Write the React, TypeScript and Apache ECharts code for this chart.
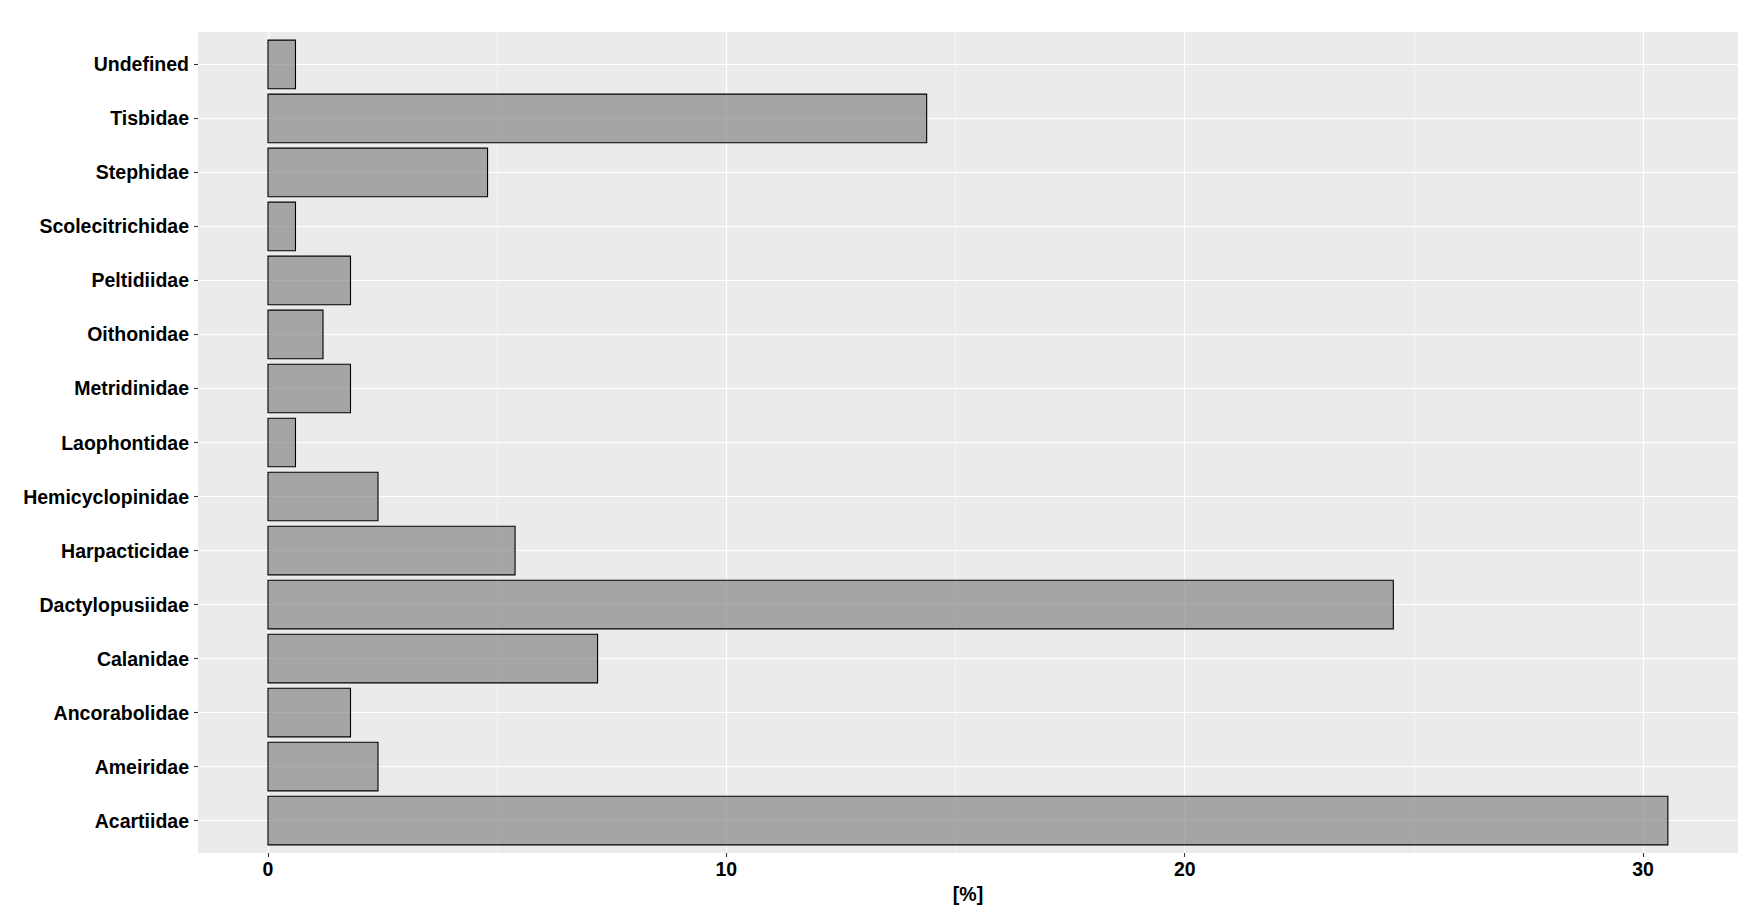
import React, { useEffect, useRef } from "react";
import * as echarts from "echarts";

// Categories, bottom (Acartiidae) to top (Undefined)
const categories = [
  "Acartiidae",
  "Ameiridae",
  "Ancorabolidae",
  "Calanidae",
  "Dactylopusiidae",
  "Harpacticidae",
  "Hemicyclopinidae",
  "Laophontidae",
  "Metridinidae",
  "Oithonidae",
  "Peltidiidae",
  "Scolecitrichidae",
  "Stephidae",
  "Tisbidae",
  "Undefined",
];

// Percent values
const percents = [
  30.54, 2.4, 1.8, 7.19, 24.55, 5.39, 2.4, 0.6, 1.8, 1.2, 1.8, 0.6, 4.79, 14.37, 0.6,
];

const majorTicks = [0, 10, 20, 30];
const minorTicks = [5, 15, 25];
const xMin = -1.527;
const xMax = 32.07;
const catPositions = [1, 2, 3, 4, 5, 6, 7, 8, 9, 10, 11, 12, 13, 14, 15];

const FONT = "'Liberation Sans', Arial, sans-serif";

export default function App() {
  const ref = useRef<HTMLDivElement>(null);

  useEffect(() => {
    if (!ref.current) return;
    const chart = echarts.init(ref.current, undefined, { renderer: "svg" });
    const data = percents.map((v, i) => [v, catPositions[i]]);
    chart.setOption({
      animation: false,
      backgroundColor: "#ffffff",
      grid: {
        left: 198,
        right: 7,
        top: 32,
        bottom: 57,
        show: true,
        backgroundColor: "#EBEBEB",
        borderWidth: 0,
      },
      xAxis: [
        {
          type: "value",
          min: xMin,
          max: xMax,
          position: "bottom",
          name: "[%]",
          nameLocation: "middle",
          nameGap: 30,
          nameTextStyle: {
            fontFamily: FONT,
            fontWeight: "bold",
            fontSize: 19.5,
            color: "#000",
          },
          axisLine: { show: false, onZero: false },
          axisTick: {
            show: true,
            length: 4,
            customValues: majorTicks,
            lineStyle: { color: "#333333", width: 1.1 },
          },
          axisLabel: {
            customValues: majorTicks,
            margin: 6,
            fontFamily: FONT,
            fontWeight: "bold",
            fontSize: 19.5,
            color: "#000",
          },
          splitLine: {
            show: true,
            lineStyle: { color: "#ffffff", width: 1.1 },
          },
        },
        {
          type: "value",
          min: xMin,
          max: xMax,
          position: "top",
          axisLine: { show: false, onZero: false },
          axisTick: { show: false, customValues: minorTicks },
          axisLabel: { show: false, customValues: minorTicks },
          splitLine: {
            show: true,
            lineStyle: { color: "#ffffff", width: 0.55 },
          },
        },
      ],
      yAxis: {
        type: "value",
        min: 0.4,
        max: 15.6,
        position: "left",
        axisLine: { show: false, onZero: false },
        axisTick: {
          show: true,
          length: 4,
          customValues: catPositions,
          lineStyle: { color: "#333333", width: 1.1 },
        },
        axisLabel: {
          customValues: catPositions,
          margin: 9,
          padding: [5, 0, 0, 0],
          fontFamily: FONT,
          fontWeight: "bold",
          fontSize: 19.5,
          color: "#000",
          formatter: (v: number) => categories[Math.round(v) - 1] ?? "",
        },
        splitLine: {
          show: true,
          lineStyle: { color: "#ffffff", width: 1.1 },
        },
      },
      series: [
        {
          type: "custom",
          xAxisIndex: 0,
          yAxisIndex: 0,
          encode: { x: 0, y: 1 },
          data,
          renderItem: (params: any, api: any) => {
            const v = api.value(0);
            const c = api.value(1);
            const p0 = api.coord([0, c]);
            const p1 = api.coord([v, c]);
            const h = api.size([0, 0.9])[1];
            return {
              type: "rect",
              shape: {
                x: p0[0],
                y: p0[1] - h / 2,
                width: p1[0] - p0[0],
                height: h,
              },
              style: {
                fill: "rgba(127,127,127,0.65)",
                stroke: "#000000",
                lineWidth: 1.1,
              },
            };
          },
        },
      ],
    });
    return () => chart.dispose();
  }, []);

  return (
    <div
      ref={ref}
      style={{ position: "fixed", left: 0, top: 0, width: 1745, height: 910 }}
    />
  );
}
